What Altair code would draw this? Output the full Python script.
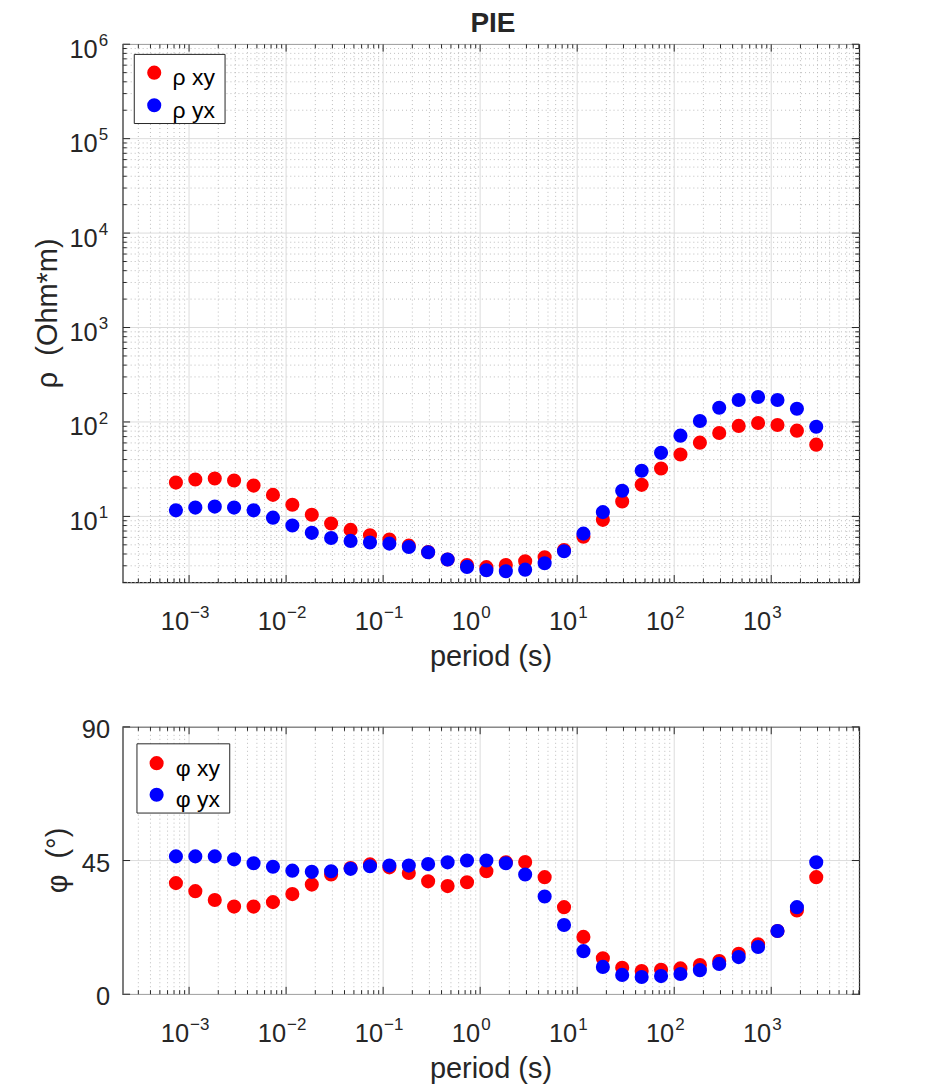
import altair as alt
import pandas as pd

# ---------------- data ----------------
periods = [7.32e-4, 1.16e-3, 1.84e-3, 2.91e-3, 4.62e-3, 7.32e-3, 0.0116, 0.0184, 0.0291, 0.0462,
           0.0732, 0.116, 0.184, 0.291, 0.462, 0.732, 1.16, 1.84, 2.91, 4.62,
           7.32, 11.6, 18.4, 29.1, 46.2, 73.2, 116, 184, 291, 462,
           732, 1160, 1840, 2910]
rho_xy = [22.8, 24.6, 25.2, 24.0, 21.2, 16.9, 13.3, 10.4, 8.4, 7.2,
          6.3, 5.7, 4.9, 4.2, 3.5, 3.05, 2.9, 3.05, 3.35, 3.7,
          4.4, 6.1, 9.2, 14.4, 21.6, 32.2, 45.2, 60.4, 76.5, 90.8,
          97.6, 93.0, 80.9, 57.5]
rho_yx = [11.6, 12.4, 12.7, 12.4, 11.6, 9.7, 8.0, 6.7, 5.9, 5.5,
          5.3, 5.15, 4.75, 4.17, 3.5, 2.92, 2.69, 2.63, 2.73, 3.19,
          4.27, 6.57, 11.1, 18.7, 30.4, 47.1, 71.6, 102.5, 141.6, 170.6,
          183.6, 170.6, 138.0, 89.1]
phi_xy = [37.4, 34.7, 31.7, 29.5, 29.5, 31.0, 33.7, 36.9, 40.3, 42.5,
          43.7, 42.7, 40.8, 38.0, 36.4, 37.7, 41.4, 44.4, 44.5, 39.4,
          29.3, 19.3, 12.1, 8.9, 7.8, 8.2, 8.7, 9.8, 11.2, 13.6,
          16.8, 21.3, 28.2, 39.4]
phi_yx = [46.4, 46.4, 46.4, 45.4, 44.1, 42.9, 41.6, 41.2, 41.4, 42.2,
          43.1, 43.3, 43.3, 43.8, 44.4, 45.0, 45.0, 44.1, 40.3, 32.9,
          23.3, 14.5, 9.2, 6.5, 5.8, 6.1, 6.8, 8.1, 10.2, 12.5,
          15.9, 21.3, 29.3, 44.4]

series_colors = ["#ff0000", "#0000ff"]
rho_legend = ["ρ xy", "ρ yx"]
phi_legend = ["φ xy", "φ yx"]

x_decades = [1e-3, 1e-2, 1e-1, 1e0, 1e1, 1e2, 1e3]
x_exponents = ["−3", "−2", "−1", "0", "1", "2", "3"]
rho_decades = [1e1, 1e2, 1e3, 1e4, 1e5, 1e6]
rho_exponents = ["1", "2", "3", "4", "5", "6"]
phi_ticks = [0, 45, 90]
phi_labels = ["0", "45", "90"]
minor_mult = [2, 3, 4, 5, 6, 7, 8, 9]
x_minor_decades = [1e-4, 1e-3, 1e-2, 1e-1, 1e0, 1e1, 1e2, 1e3]
rho_minor_decades = [1e0, 1e1, 1e2, 1e3, 1e4, 1e5]

X_DOMAIN = [2.07e-4, 8070]
RHO_DOMAIN = [2, 1e6]
PHI_DOMAIN = [0, 90]

# ---------------- style ----------------
W = 738.3
H1 = 539.5
H2 = 268
FONT = "Liberation Sans"
TC = "#262626"
GRID = "#dcdcdc"
MINOR = "#bdbdbd"
DASH = [1, 3]
MAJ_T = 7.4
MIN_T = 4.0
MSIZE = 200
TICKFS = 25.5
LABFS = 29

x_minor = [m * d for d in x_minor_decades for m in minor_mult if X_DOMAIN[0] <= m * d <= X_DOMAIN[1]]
rho_minor = [m * d for d in rho_minor_decades for m in minor_mult if RHO_DOMAIN[0] <= m * d <= RHO_DOMAIN[1]]

xs = alt.Scale(type="log", domain=X_DOMAIN, nice=False)
ys_rho = alt.Scale(type="log", domain=RHO_DOMAIN, nice=False)
ys_phi = alt.Scale(type="linear", domain=PHI_DOMAIN, nice=False, zero=False)


def X(field="v"):
    return alt.X(f"{field}:Q", scale=xs, axis=None)


def Y(scale, field="v"):
    return alt.Y(f"{field}:Q", scale=scale, axis=None)


def vrules(values, y0, y1, color, dash=None):
    kw = dict(color=color, strokeWidth=1)
    if dash:
        kw["strokeDash"] = dash
    return alt.Chart(pd.DataFrame({"v": values})).mark_rule(**kw).encode(
        x=X(), y=alt.value(y0), y2=alt.value(y1))


def hrules(values, scale, x0, x1, color, dash=None):
    kw = dict(color=color, strokeWidth=1)
    if dash:
        kw["strokeDash"] = dash
    return alt.Chart(pd.DataFrame({"v": values})).mark_rule(**kw).encode(
        y=Y(scale), x=alt.value(x0), x2=alt.value(x1))


def x_tick_labels(H):
    base = alt.Chart(pd.DataFrame({"v": x_decades, "e": x_exponents})).transform_calculate(
        off="13.1 - 6.8*length(datum.e)")
    ten = base.mark_text(text="10", align="right", baseline="alphabetic", font=FONT,
                         fontSize=TICKFS, color=TC).encode(
        x=X(), xOffset=alt.XOffset("off:Q", scale=None), y=alt.value(H + 48))
    ex = base.mark_text(align="left", baseline="alphabetic", font=FONT, fontSize=17,
                        color=TC, dx=1).encode(
        x=X(), xOffset=alt.XOffset("off:Q", scale=None), y=alt.value(H + 35.6), text="e:N")
    return [ten, ex]


def points(yvals, scale, color):
    df = pd.DataFrame({"p": periods, "y": yvals})
    return alt.Chart(df).mark_circle(size=MSIZE, opacity=1, color=color).encode(
        x=X("p"), y=Y(scale, "y"))


def legend(labels, bx0, bx1, by0, by1, mx, my0, step, tx):
    layers = [alt.Chart(pd.DataFrame({"a": [0]})).mark_rect(
        fill="white", stroke=TC, strokeWidth=1).encode(
        x=alt.value(bx0), x2=alt.value(bx1), y=alt.value(by0), y2=alt.value(by1))]
    for i, (lab, col) in enumerate(zip(labels, series_colors)):
        d = pd.DataFrame({"t": [lab]})
        layers.append(alt.Chart(d).mark_circle(size=MSIZE, opacity=1, color=col).encode(
            x=alt.value(mx), y=alt.value(my0 + i * step)))
        layers.append(alt.Chart(d).mark_text(align="left", baseline="alphabetic", font=FONT,
                                             fontSize=23, color="#000000").encode(
            x=alt.value(tx), y=alt.value(my0 + i * step + 12.5), text="t:N"))
    return layers


def frame_ticks(H, yscale, ymaj, ymin):
    layers = [
        vrules(x_decades, H, H - MAJ_T, TC), vrules(x_decades, 0, MAJ_T, TC),
        vrules(x_minor, H, H - MIN_T, TC), vrules(x_minor, 0, MIN_T, TC),
        hrules(ymaj, yscale, 0, MAJ_T, TC), hrules(ymaj, yscale, W, W - MAJ_T, TC),
    ]
    if ymin:
        layers += [hrules(ymin, yscale, 0, MIN_T, TC), hrules(ymin, yscale, W, W - MIN_T, TC)]
    return layers


def text_value(txt, x, y, size, angle=None, bold=False, align="center"):
    kw = dict(text=txt, align=align, baseline="alphabetic", font=FONT, fontSize=size, color=TC)
    if angle is not None:
        kw["angle"] = angle
    if bold:
        kw["fontWeight"] = "bold"
    return alt.Chart(pd.DataFrame({"a": [0]})).mark_text(**kw).encode(
        x=alt.value(x), y=alt.value(y))


# ---------------- top panel ----------------
anchor = alt.Chart(pd.DataFrame({"a": [0]})).mark_rect(opacity=0).encode(
    x=alt.value(-121.7), x2=alt.value(951 - 121.7), y=alt.value(-41.5), y2=alt.value(1092 - 41.5))

rho_lab = pd.DataFrame({"v": rho_decades, "e": rho_exponents})
top_layers = [anchor,
              vrules(x_minor, 0, H1, MINOR, DASH), hrules(rho_minor, ys_rho, 0, W, MINOR, DASH),
              vrules(x_decades, 0, H1, GRID), hrules(rho_decades, ys_rho, 0, W, GRID)]
top_layers += frame_ticks(H1, ys_rho, rho_decades, rho_minor)
top_layers += [points(rho_xy, ys_rho, series_colors[0]), points(rho_yx, ys_rho, series_colors[1])]
top_layers += legend(rho_legend, 11.6, 102.6, 10.2, 79.5, 31.6, 28.5, 32.7, 50)
top_layers += x_tick_labels(H1)
top_layers += [
    alt.Chart(rho_lab).mark_text(text="10", align="right", baseline="alphabetic", font=FONT,
                                 fontSize=TICKFS, color=TC, dy=13.5).encode(
        y=Y(ys_rho), x=alt.value(-25)),
    alt.Chart(rho_lab).mark_text(align="left", baseline="alphabetic", font=FONT,
                                 fontSize=17, color=TC, dy=1.8).encode(
        y=Y(ys_rho), x=alt.value(-24), text="e:N"),
    text_value("period (s)", W / 2, H1 + 84, LABFS),
    text_value("ρ\u00a0 (Ohm*m)", -65.7, H1 / 2, LABFS, angle=270),
    text_value("PIE", W / 2 + 2, -12.2, 28, bold=True),
]
top = alt.layer(*top_layers).properties(width=W, height=H1)

# ---------------- bottom panel ----------------
phi_lab = pd.DataFrame({"v": phi_ticks, "t": phi_labels})
bot_layers = [vrules(x_minor, 0, H2, MINOR, DASH),
              vrules(x_decades, 0, H2, GRID), hrules(phi_ticks, ys_phi, 0, W, GRID)]
bot_layers += frame_ticks(H2, ys_phi, phi_ticks, None)
bot_layers += [points(phi_xy, ys_phi, series_colors[0]), points(phi_yx, ys_phi, series_colors[1])]
bot_layers += legend(phi_legend, 14.3, 107.3, 17, 86.4, 34, 36.4, 31.6, 53.3)
bot_layers += x_tick_labels(H2)
bot_layers += [
    alt.Chart(phi_lab).mark_text(align="right", baseline="alphabetic", font=FONT,
                                 fontSize=TICKFS, color=TC, dy=11).encode(
        y=Y(ys_phi), x=alt.value(-12.7), text="t:N"),
    text_value("period (s)", W / 2, H2 + 84, LABFS),
    text_value("φ\u00a0 (°)", -55.7, H2 / 2, LABFS, angle=270),
]
bottom = alt.layer(*bot_layers).properties(width=W, height=H2)

chart = alt.vconcat(top, bottom, spacing=144.3, bounds="flush").properties(
    padding=0, background="white"
).configure_view(stroke=TC, strokeWidth=1.2)

chart.save("out.html", embed_options={"renderer": "svg", "actions": False})
